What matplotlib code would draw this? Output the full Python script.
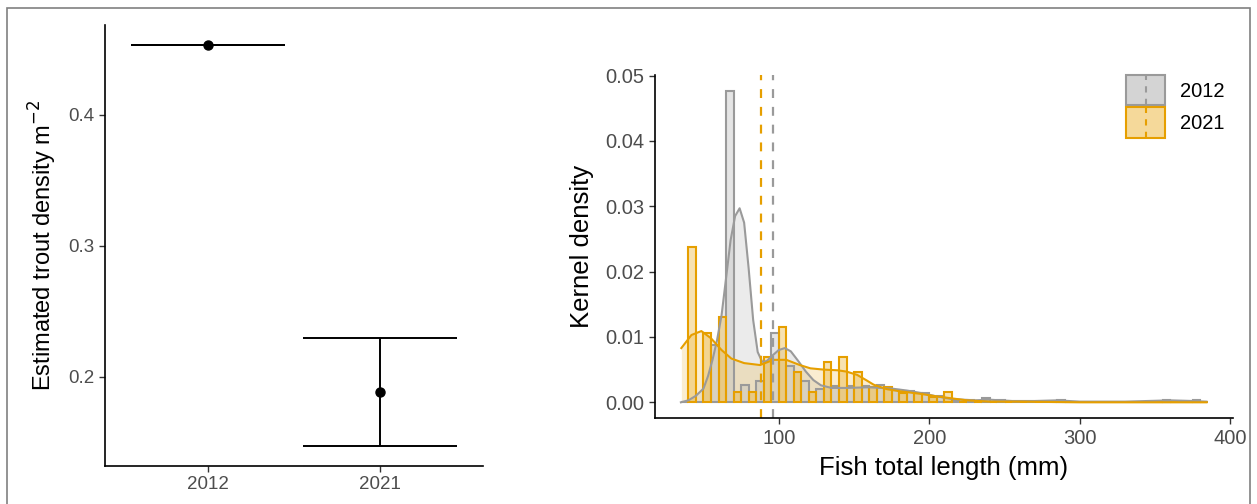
import matplotlib
matplotlib.use('Agg')
import matplotlib.pyplot as plt
from matplotlib.patches import Rectangle
from matplotlib.lines import Line2D
from matplotlib.legend_handler import HandlerBase

plt.rcParams['font.family'] = ['Liberation Sans', 'DejaVu Sans']

# left panel: estimated trout density per year
years = ['2012', '2021']
density_est = [0.4534, 0.1885]
density_lo = [0.4534, 0.1473]
density_hi = [0.4534, 0.2298]

# right panel: histogram bars (left edge in mm, 5 mm wide)
gray_left = list(range(35, 376, 10))
gray_height = [0, 0, 0.0088, 0.0477, 0.0026, 0.0033, 0.0106, 0.0056, 0.0032, 0.0020,
               0.0025, 0.0025, 0.0025, 0.0027, 0.0019, 0.0017, 0.0014, 0.0009, 0.0003, 0.0003,
               0.0006, 0.0003, 0, 0, 0, 0.0004, 0, 0, 0, 0,
               0, 0, 0.0004, 0, 0.0004]
orange_left = list(range(40, 381, 10))
orange_height = [0.0237, 0.0106, 0.0130, 0.0015, 0.0015, 0.0070, 0.0116, 0.0047, 0.0015, 0.0061,
                 0.0069, 0.0047, 0.0024, 0.0024, 0.0014, 0.0014, 0.0008, 0.0016, 0, 0,
                 0, 0, 0, 0, 0, 0, 0, 0, 0, 0,
                 0, 0, 0, 0, 0]

# kernel density curves
kde_gray_x = [35, 40, 45, 50, 53, 56, 59, 62, 65, 68, 71, 74, 77, 80, 83, 86, 89, 92, 96, 100,
              104, 108, 113, 118, 123, 128, 135, 145, 160, 175, 185, 195, 205, 215, 230, 240,
              255, 270, 285, 300, 330, 360, 375, 384]
kde_gray_y = [0.0, 0.0003, 0.0010, 0.0021, 0.0040, 0.0065, 0.0095, 0.0133, 0.0190, 0.0248,
              0.0285, 0.0297, 0.0275, 0.0205, 0.0126, 0.0077, 0.0062, 0.0063, 0.0072, 0.0080,
              0.0083, 0.0078, 0.0063, 0.0047, 0.0034, 0.0026, 0.0022, 0.0022, 0.0023, 0.0021,
              0.0018, 0.0014, 0.0009, 0.0005, 0.0003, 0.0004, 0.0002, 0.0002, 0.0003, 0.0001,
              0.0001, 0.0003, 0.0002, 0.0001]
kde_orange_x = [35.3, 42, 48.6, 55, 62, 68.5, 77, 87.6, 96.4, 105, 114, 121, 130, 139, 145,
                152, 158, 163, 168, 172, 180, 194, 205, 215, 225, 240, 260, 300, 384]
kde_orange_y = [0.0083, 0.0103, 0.0109, 0.0098, 0.0080, 0.0067, 0.0060, 0.0057, 0.0065, 0.0065,
                0.0057, 0.0052, 0.0050, 0.0049, 0.0047, 0.0042, 0.0034, 0.0027, 0.0023, 0.0020,
                0.0017, 0.0013, 0.0009, 0.0006, 0.0003, 0.0001, 0.0001, 0.0, 0.0]

mean_2012 = 96.1
mean_2021 = 88.2

GRAY = '#9a9a9a'
ORANGE = '#E69F00'
TICKCOL = '#4d4d4d'


class KeyBox:
    def __init__(self, face, edge):
        self.face = face
        self.edge = edge


class KeyBoxHandler(HandlerBase):
    def create_artists(self, legend, orig_handle, xdescent, ydescent, width, height, fontsize, trans):
        box = Rectangle((-xdescent, -ydescent), width, height, facecolor=orig_handle.face,
                        edgecolor=orig_handle.edge, lw=1.5, transform=trans)
        ln = Line2D([-xdescent + width / 2] * 2, [-ydescent, -ydescent + height],
                    color=orig_handle.edge, ls=(0, (3, 3)), lw=1.5, transform=trans)
        return [box, ln]


fig = plt.figure(figsize=(12.57, 5.04), dpi=100)

# ---- left panel
ax1 = fig.add_axes([105 / 1257, 1 - 466 / 504, 378 / 1257, 441 / 504])
xpos = [1, 2]
ax1.vlines(xpos, density_lo, density_hi, color='black', lw=1.4)
ax1.hlines(density_lo, [x - 0.45 for x in xpos], [x + 0.45 for x in xpos], color='black', lw=1.4)
ax1.hlines(density_hi, [x - 0.45 for x in xpos], [x + 0.45 for x in xpos], color='black', lw=1.4)
ax1.plot(xpos, density_est, 'o', color='black', ms=6.5)
ax1.set_xlim(0.4, 2.6)
ax1.set_ylim(0.132, 0.4687)
ax1.set_xticks(xpos)
ax1.set_xticklabels(years)
ax1.set_yticks([0.2, 0.3, 0.4])
ax1.set_ylabel('Estimated trout density m$^{-2}$', fontsize=17, labelpad=7)
ax1.tick_params(labelsize=13.5, labelcolor=TICKCOL, color='#333333', length=4, width=1)
for s in ['top', 'right']:
    ax1.spines[s].set_visible(False)
for s in ['left', 'bottom']:
    ax1.spines[s].set_linewidth(1.2)

# ---- right panel
ax2 = fig.add_axes([655 / 1257, 1 - 418.3 / 504, 578 / 1257, 343.3 / 504])
ax2.fill_between(kde_gray_x, kde_gray_y, color='#bdbdbd', alpha=0.3, lw=0)
ax2.fill_between(kde_orange_x, kde_orange_y, color=ORANGE, alpha=0.18, lw=0)
ax2.bar(gray_left, gray_height, width=5, align='edge', facecolor=(0.75, 0.75, 0.75, 0.4),
        edgecolor=GRAY, lw=1.5)
ax2.bar(orange_left, orange_height, width=5, align='edge', facecolor=(0.902, 0.624, 0.0, 0.3),
        edgecolor=ORANGE, lw=1.5)
ax2.plot(kde_gray_x, kde_gray_y, color=GRAY, lw=1.5)
ax2.plot(kde_orange_x, kde_orange_y, color=ORANGE, lw=1.5)
ax2.axvline(mean_2012, color=GRAY, ls=(0, (4, 4)), lw=1.6)
ax2.axvline(mean_2021, color=ORANGE, ls=(0, (4, 4)), lw=1.6)
ax2.set_xlim(17.8, 401.7)
ax2.set_ylim(-0.00245, 0.0501)
ax2.set_xticks([100, 200, 300, 400])
ax2.set_yticks([0, 0.01, 0.02, 0.03, 0.04, 0.05])
ax2.set_yticklabels(['0.00', '0.01', '0.02', '0.03', '0.04', '0.05'])
ax2.set_xlabel('Fish total length (mm)', fontsize=18.5, labelpad=6)
ax2.set_ylabel('Kernel density', fontsize=18.5, labelpad=8)
ax2.tick_params(labelsize=14.5, labelcolor=TICKCOL, color='#333333', length=4, width=1)
for s in ['top', 'right']:
    ax2.spines[s].set_visible(False)
for s in ['left', 'bottom']:
    ax2.spines[s].set_linewidth(1.2)

keys = [KeyBox('#d4d4d4', GRAY), KeyBox('#f5d99a', ORANGE)]
ax2.legend(keys, years, handler_map={KeyBox: KeyBoxHandler()}, loc='upper left',
           bbox_to_anchor=(1126 / 1257, 1 - 75 / 504), bbox_transform=fig.transFigure,
           frameon=False, fontsize=14.5, handlelength=1.95, handleheight=1.95,
           labelspacing=0.1, handletextpad=0.75, borderpad=0, borderaxespad=0)

# outer border
fig.add_artist(Rectangle((7 / 1257, -0.1), 1243 / 1257, 1 - 8 / 504 + 0.1, transform=fig.transFigure,
                         fill=False, edgecolor='#808080', lw=1.2, clip_on=False))

fig.savefig('out.png', dpi=100)
